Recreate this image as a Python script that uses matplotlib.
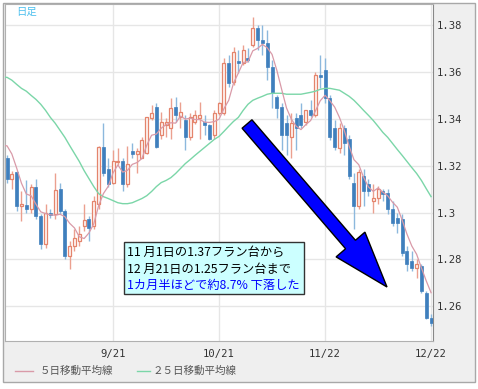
import numpy as np
import pandas as pd
import matplotlib
matplotlib.use("Agg")
import matplotlib.pyplot as plt
from matplotlib.patches import Rectangle, FancyArrow
from matplotlib.lines import Line2D
from matplotlib.transforms import IdentityTransform

# EUR/CHF daily candles, 2010-08-20 .. 2010-12-22 (business days)
opens = [1.3231, 1.3145, 1.3171, 1.3030, 1.3034, 1.3017, 1.3107, 1.2987, 1.2867, 1.3000,
         1.2995, 1.3102, 1.3008, 1.2816, 1.2858, 1.2880, 1.2944, 1.2974, 1.2944, 1.3038,
         1.3278, 1.3188, 1.3128, 1.3214, 1.3222, 1.3124, 1.3261, 1.3252, 1.3235, 1.3256,
         1.3402, 1.3449, 1.3329, 1.3372, 1.3363, 1.3449, 1.3406, 1.3393, 1.3321, 1.3385,
         1.3402, 1.3385, 1.3372, 1.3329, 1.3423, 1.3423, 1.3637, 1.3556, 1.3646, 1.3637,
         1.3659, 1.3714, 1.3787, 1.3736, 1.3723, 1.3620, 1.3492, 1.3449, 1.3381, 1.3321,
         1.3402, 1.3415, 1.3385, 1.3436, 1.3415, 1.3586, 1.3607, 1.3488, 1.3363, 1.3274,
         1.3363, 1.3316, 1.3128, 1.3030, 1.3158, 1.3124, 1.3051, 1.3064, 1.3094, 1.3085,
         1.3017, 1.2978, 1.2974, 1.2837, 1.2794, 1.2764, 1.2773, 1.2657, 1.2550]
highs = [1.3244, 1.3179, 1.3179, 1.3094, 1.3137, 1.3124, 1.3145, 1.2995, 1.3038, 1.3017,
         1.3167, 1.3128, 1.3017, 1.2880, 1.2931, 1.2944, 1.3038, 1.2987, 1.3072, 1.3286,
         1.3381, 1.3231, 1.3265, 1.3274, 1.3231, 1.3286, 1.3299, 1.3274, 1.3321, 1.3406,
         1.3458, 1.3466, 1.3428, 1.3402, 1.3488, 1.3492, 1.3470, 1.3415, 1.3423, 1.3436,
         1.3470, 1.3415, 1.3380, 1.3436, 1.3470, 1.3659, 1.3672, 1.3706, 1.3693, 1.3714,
         1.3702, 1.3834, 1.3800, 1.3800, 1.3779, 1.3650, 1.3500, 1.3466, 1.3415, 1.3423,
         1.3423, 1.3466, 1.3436, 1.3479, 1.3599, 1.3672, 1.3659, 1.3500, 1.3393, 1.3381,
         1.3372, 1.3329, 1.3171, 1.3188, 1.3188, 1.3145, 1.3124, 1.3115, 1.3102, 1.3102,
         1.3051, 1.3000, 1.2995, 1.2858, 1.2837, 1.2803, 1.2781, 1.2666, 1.2567]
lows = [1.3128, 1.3102, 1.3008, 1.2965, 1.3000, 1.3000, 1.2974, 1.2846, 1.2850, 1.2978,
        1.2974, 1.2995, 1.2803, 1.2760, 1.2837, 1.2858, 1.2923, 1.2880, 1.2931, 1.3017,
        1.3158, 1.3107, 1.3124, 1.3201, 1.3094, 1.3107, 1.3231, 1.3167, 1.3231, 1.3252,
        1.3393, 1.3274, 1.3316, 1.3321, 1.3316, 1.3385, 1.3359, 1.3265, 1.3308, 1.3380,
        1.3316, 1.3329, 1.3308, 1.3316, 1.3415, 1.3415, 1.3535, 1.3543, 1.3595, 1.3629,
        1.3642, 1.3706, 1.3693, 1.3672, 1.3565, 1.3445, 1.3402, 1.3265, 1.3244, 1.3231,
        1.3265, 1.3359, 1.3372, 1.3406, 1.3406, 1.3530, 1.3466, 1.3308, 1.3265, 1.3256,
        1.3244, 1.3145, 1.2931, 1.3017, 1.3030, 1.3072, 1.2999, 1.3038, 1.3051, 1.2995,
        1.2944, 1.2914, 1.2816, 1.2751, 1.2751, 1.2721, 1.2657, 1.2546, 1.2516]
closes = [1.3145, 1.3166, 1.3030, 1.3038, 1.3017, 1.3107, 1.2987, 1.2867, 1.3000, 1.2991,
          1.3098, 1.3008, 1.2816, 1.2858, 1.2892, 1.2910, 1.2970, 1.2935, 1.3051, 1.3278,
          1.3171, 1.3124, 1.3222, 1.3222, 1.3124, 1.3209, 1.3252, 1.3261, 1.3308, 1.3406,
          1.3423, 1.3278, 1.3385, 1.3385, 1.3445, 1.3415, 1.3428, 1.3321, 1.3406, 1.3415,
          1.3415, 1.3372, 1.3316, 1.3423, 1.3466, 1.3637, 1.3552, 1.3684, 1.3637, 1.3693,
          1.3650, 1.3787, 1.3736, 1.3723, 1.3620, 1.3509, 1.3445, 1.3329, 1.3329, 1.3381,
          1.3359, 1.3372, 1.3436, 1.3415, 1.3586, 1.3577, 1.3488, 1.3321, 1.3278, 1.3363,
          1.3299, 1.3158, 1.3030, 1.3171, 1.3094, 1.3094, 1.3064, 1.3102, 1.3081, 1.3017,
          1.2957, 1.2957, 1.2828, 1.2781, 1.2764, 1.2781, 1.2666, 1.2550, 1.2529]

# 5-day MA values before enough closes are on the chart
ma5_head = [1.3285, 1.3250, 1.3190, 1.3125]
# 25-day MA
ma25 = [1.3577, 1.3565, 1.3547, 1.3530, 1.3518, 1.3500, 1.3483, 1.3462, 1.3436, 1.3406,
        1.3381, 1.3351, 1.3321, 1.3286, 1.3252, 1.3218, 1.3179, 1.3145, 1.3111, 1.3081,
        1.3068, 1.3060, 1.3051, 1.3042, 1.3038, 1.3038, 1.3042, 1.3051, 1.3060, 1.3072,
        1.3090, 1.3111, 1.3128, 1.3137, 1.3149, 1.3167, 1.3188, 1.3209, 1.3226, 1.3244,
        1.3261, 1.3278, 1.3295, 1.3312, 1.3325, 1.3346, 1.3368, 1.3389, 1.3406, 1.3436,
        1.3462, 1.3479, 1.3488, 1.3496, 1.3505, 1.3509, 1.3509, 1.3509, 1.3505, 1.3505,
        1.3505, 1.3505, 1.3509, 1.3513, 1.3518, 1.3526, 1.3530, 1.3530, 1.3526, 1.3522,
        1.3509, 1.3496, 1.3479, 1.3458, 1.3436, 1.3415, 1.3393, 1.3368, 1.3342, 1.3321,
        1.3295, 1.3269, 1.3244, 1.3218, 1.3192, 1.3167, 1.3137, 1.3102, 1.3068]

xtick_pos = [22, 44, 66, 88]
xtick_labels = ["9/21", "10/21", "11/22", "12/22"]
ytick_vals = [1.26, 1.28, 1.30, 1.32, 1.34, 1.36, 1.38]
ytick_labels = ["1.26", "1.28", "1.3", "1.32", "1.34", "1.36", "1.38"]

note_lines = ["11 月1日の1.37フラン台から",
              "12 月21日の1.25フラン台まで",
              "1カ月半ほどで約8.7% 下落した"]
legend_labels = ["５日移動平均線", "２５日移動平均線"]

W, H = 478, 389
JP = ["Noto Sans CJK JP", "DejaVu Sans"]

o = np.array(opens); h = np.array(highs); l = np.array(lows); c = np.array(closes)
x = np.arange(len(c))
ma5 = pd.Series(c).rolling(5).mean().to_numpy()
ma5[:len(ma5_head)] = ma5_head

fig = plt.figure(figsize=(W / 100, H / 100), dpi=100, facecolor="white")

# grey outer panel
fig.add_artist(Rectangle((3 / W, 1 - 382 / H), 472 / W, 379 / H, transform=fig.transFigure,
                         facecolor="#efefef", edgecolor="#a8a8a8", lw=1, zorder=-5))

ax = fig.add_axes([5 / W, 1 - 341 / H, 428 / W, 337 / H])
ax.set_facecolor("white")
ax.set_xlim(-0.42, 88.4)
ax.set_ylim(1.2452, 1.3890)

up = c >= o
up_edge, up_wick = "#e4846c", "#eba08f"
dn_face, dn_wick = "#3f7fbd", "#8cb8dd"

ax.vlines(x[up], l[up], h[up], color=up_wick, lw=1, zorder=2)
ax.vlines(x[~up], l[~up], h[~up], color=dn_wick, lw=1, zorder=2)
body_lo = np.minimum(o, c)
body_h = np.maximum(np.abs(c - o), 0.0004)
ax.bar(x[up], body_h[up], bottom=body_lo[up], width=0.62, facecolor="#fff6f3",
       edgecolor=up_edge, lw=0.9, zorder=3)
ax.bar(x[~up], body_h[~up], bottom=body_lo[~up], width=0.62, facecolor=dn_face,
       edgecolor=dn_face, lw=0.5, zorder=3)

ax.plot(np.r_[-0.42, x], np.r_[ma25[0], ma25], color="#7bd6a8", lw=1.0, zorder=4)
ax.plot(np.r_[-0.42, x], np.r_[ma5[0], ma5], color="#d99aa8", lw=0.9, zorder=4)

ax.set_xticks(xtick_pos)
ax.set_xticklabels(xtick_labels, family="DejaVu Sans Mono", fontsize=7.6, color="#333333")
ax.set_yticks(ytick_vals)
ax.set_yticklabels(ytick_labels, family="DejaVu Sans Mono", fontsize=7.6, color="#333333")
ax.yaxis.tick_right()
ax.tick_params(axis="y", length=0, pad=3)
ax.tick_params(axis="x", length=0, pad=6)
ax.grid(True, color="#e6e6e6", lw=1)
ax.set_axisbelow(True)
for side in ["left", "top", "bottom"]:
    ax.spines[side].set_color("#b0b0b0")
ax.spines["right"].set_color("#888888")

fig.text(16 / W, 1 - 12 / H, "日足", family=JP, fontsize=7.5, color="#4ec0ee", va="center")

# big arrow
ident = IdentityTransform()
fig.add_artist(FancyArrow(247, H - 124, 140, -163, width=13, head_width=38, head_length=56,
                          length_includes_head=True, facecolor="#0000ff", edgecolor="black",
                          lw=1, transform=ident, zorder=5))

# note box
fig.add_artist(Rectangle((124, H - 294), 180, 52, transform=ident,
                         facecolor="#ccffff", edgecolor="#333333", lw=1, zorder=6))
for line, yy, col in zip(note_lines, [252, 269, 285], ["black", "black", "#0000ff"]):
    fig.text(127 / W, 1 - yy / H, line, family=JP, fontsize=8.8, color=col,
             va="center", zorder=7)

# legend
for (x0, x1), col, tx, lab in zip([(15, 33), (137, 150)], ["#d99aa8", "#7bd6a8"],
                                  [40, 153], legend_labels):
    fig.add_artist(Line2D([x0 / W, x1 / W], [1 - 371 / H] * 2, transform=fig.transFigure,
                          color=col, lw=1))
    fig.text(tx / W, 1 - 371 / H, lab, family=JP, fontsize=7.6, color="#555555", va="center")

fig.savefig("out.png", dpi=100)
